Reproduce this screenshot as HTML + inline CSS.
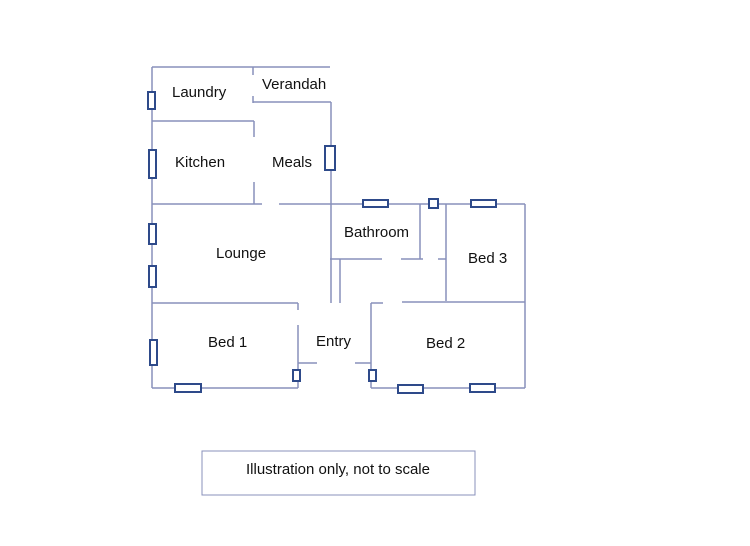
<!DOCTYPE html>
<html><head><style>body{margin:0;background:#fff}svg{display:block}text{font-family:"Liberation Sans",sans-serif;font-size:15px;fill:#111}</style></head><body>
<svg width="750" height="546" viewBox="0 0 750 546">
<g stroke="#8890bb" stroke-width="1.5" fill="none">
<path d="M152 67V388M152 67H330M253 67V75M253 96V103M253 102H331M331 102V303M152 121H254M254 121V137M254 182V204M152 204H262M279 204H525M525 204V388"/>
<path d="M330 259H382M401 259H423M340 259V303M420 204V259M446 204V301M438 259H446M402 302H525M371 303V388M371 303H383M371 388H525"/>
<path d="M152 303H298M298 303V310M298 325V388M152 388H298M298 363H317M355 363H371"/>
</g>
<g stroke="#2e4a8a" stroke-width="2" fill="#fff">
<rect x="148" y="92" width="7" height="17"/>
<rect x="149" y="150" width="7" height="28"/>
<rect x="149" y="224" width="7" height="20"/>
<rect x="149" y="266" width="7" height="21"/>
<rect x="150" y="340" width="7" height="25"/>
<rect x="175" y="384" width="26" height="8"/>
<rect x="293" y="370" width="7" height="11"/>
<rect x="369" y="370" width="7" height="11"/>
<rect x="325" y="146" width="10" height="24"/>
<rect x="363" y="200" width="25" height="7"/>
<rect x="429" y="199" width="9" height="9"/>
<rect x="471" y="200" width="25" height="7"/>
<rect x="398" y="385" width="25" height="8"/>
<rect x="470" y="384" width="25" height="8"/>
</g>
<text x="172" y="97">Laundry</text>
<text x="262" y="89">Verandah</text>
<text x="175" y="167">Kitchen</text>
<text x="272" y="167">Meals</text>
<text x="344" y="237">Bathroom</text>
<text x="216" y="258">Lounge</text>
<text x="468" y="263">Bed 3</text>
<text x="208" y="347">Bed 1</text>
<text x="316" y="346">Entry</text>
<text x="426" y="348">Bed 2</text>
<rect x="202" y="451" width="273" height="44" fill="none" stroke="#8890bb" stroke-width="1"/>
<text x="338" y="474" text-anchor="middle">Illustration only, not to scale</text>
</svg>
</body></html>
